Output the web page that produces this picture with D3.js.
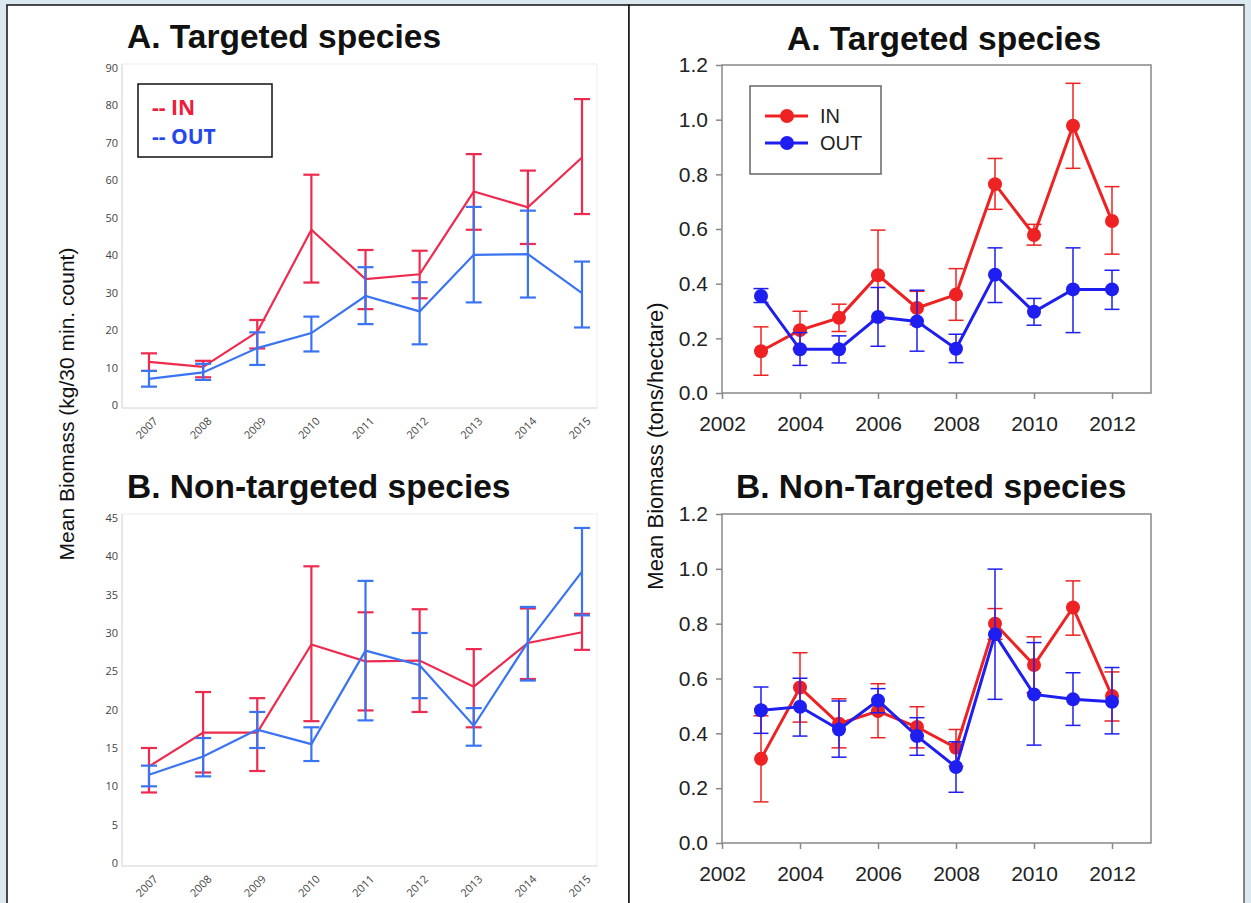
<!DOCTYPE html>
<html><head><meta charset="utf-8">
<script src="https://cdn.jsdelivr.net/npm/d3@7"></script>
<style>
html,body{margin:0;padding:0;background:#dbe8f0;}
svg{display:block;}
</style></head>
<body>
<svg id="chart" width="1251" height="903"></svg>
<script>
// ---------- DATA ----------
const leftYears = [2007, 2008, 2009, 2010, 2011, 2012, 2013, 2014, 2015];
const leftYTicksA = [0, 10, 20, 30, 40, 50, 60, 70, 80, 90];
const leftYTicksB = [0, 5, 10, 15, 20, 25, 30, 35, 40, 45];

const leftA_in   = [11.5, 10.2, 19.5, 46.8, 33.6, 34.9, 57.0, 52.8, 66.1];
const leftA_inLo = [9.1, 7.4, 15.1, 32.7, 25.6, 28.5, 46.8, 43.0, 51.0];
const leftA_inHi = [13.8, 11.8, 22.7, 61.5, 41.4, 41.2, 67.0, 62.6, 81.7];
const leftA_out   = [7.0, 8.7, 15.2, 19.2, 29.1, 25.0, 40.1, 40.3, 29.9];
const leftA_outLo = [4.9, 6.7, 10.7, 14.3, 21.6, 16.2, 27.4, 28.7, 20.7];
const leftA_outHi = [9.1, 11.0, 19.4, 23.6, 36.8, 32.8, 52.9, 51.9, 38.3];

const leftB_in   = [12.6, 17.0, 17.0, 28.5, 26.3, 26.4, 23.0, 28.7, 30.1];
const leftB_inLo = [9.2, 11.8, 12.0, 18.5, 19.9, 19.7, 17.7, 24.0, 27.8];
const leftB_inHi = [15.0, 22.3, 21.5, 38.7, 32.7, 33.1, 27.9, 33.2, 32.5];
const leftB_out   = [11.5, 13.9, 17.4, 15.5, 27.7, 25.8, 17.9, 28.8, 38.0];
const leftB_outLo = [10.0, 11.3, 15.0, 13.3, 18.6, 21.5, 15.3, 23.8, 32.3];
const leftB_outHi = [12.7, 16.3, 19.7, 17.7, 36.8, 30.0, 20.2, 33.4, 43.7];

const rightYears = [2003, 2004, 2005, 2006, 2007, 2008, 2009, 2010, 2011, 2012];
const rightXTicks = [2002, 2004, 2006, 2008, 2010, 2012];
const rightYTicks = [0.0, 0.2, 0.4, 0.6, 0.8, 1.0, 1.2];

const rightA_in   = [0.153, 0.230, 0.275, 0.431, 0.311, 0.360, 0.764, 0.578, 0.978, 0.629];
const rightA_inLo = [0.065, 0.160, 0.225, 0.266, 0.250, 0.266, 0.672, 0.541, 0.822, 0.508];
const rightA_inHi = [0.242, 0.299, 0.325, 0.596, 0.372, 0.455, 0.858, 0.617, 1.133, 0.755];
const rightA_out   = [0.355, 0.160, 0.160, 0.278, 0.262, 0.162, 0.433, 0.297, 0.379, 0.379];
const rightA_outLo = [0.331, 0.101, 0.110, 0.171, 0.153, 0.111, 0.331, 0.248, 0.221, 0.306];
const rightA_outHi = [0.382, 0.221, 0.209, 0.386, 0.376, 0.215, 0.531, 0.346, 0.531, 0.449];

const rightB_in   = [0.307, 0.567, 0.435, 0.481, 0.423, 0.347, 0.800, 0.649, 0.859, 0.536];
const rightB_inLo = [0.150, 0.441, 0.347, 0.384, 0.347, 0.280, 0.743, 0.548, 0.758, 0.445];
const rightB_inHi = [0.464, 0.694, 0.526, 0.581, 0.497, 0.414, 0.855, 0.752, 0.956, 0.624];
const rightB_out   = [0.484, 0.497, 0.414, 0.520, 0.390, 0.277, 0.761, 0.542, 0.524, 0.515];
const rightB_outLo = [0.400, 0.390, 0.313, 0.475, 0.320, 0.185, 0.524, 0.357, 0.429, 0.398];
const rightB_outHi = [0.569, 0.601, 0.518, 0.563, 0.457, 0.369, 0.999, 0.731, 0.621, 0.640];

const seriesNames = ["IN", "OUT"];

// ---------- STYLE ----------
const leftRed = "#ee2a4e", leftBlue = "#3a74f2";
const rightRed = "#ee2222", rightBlue = "#1e1ef0";

const svg = d3.select("#chart");

// panels
svg.append("rect").attr("x", 7).attr("y", 5).attr("width", 622).attr("height", 905)
  .attr("fill", "#fff").attr("stroke", "#111").attr("stroke-width", 1.5);
svg.append("rect").attr("x", 629).attr("y", 5).attr("width", 615).attr("height", 905)
  .attr("fill", "#fff").attr("stroke", "#111").attr("stroke-width", 1.5);
svg.append("line").attr("x1", 1244).attr("x2", 1244).attr("y1", 5).attr("y2", 903)
  .attr("stroke", "#999").attr("stroke-width", 1.5);

function title(x, y, txt, size) {
  svg.append("text").attr("x", x).attr("y", y).text(txt)
    .attr("font-family", "'Liberation Sans', Arial, sans-serif")
    .attr("font-weight", "bold").attr("font-size", size).attr("fill", "#111");
}

// ---------- LEFT PANELS ----------
function leftChart(yTop, yBottom, maxV, ticks, inV, inLo, inHi, outV, outLo, outHi) {
  const x = d3.scalePoint().domain(leftYears).range([149, 582]);
  const y = d3.scaleLinear().domain([0, maxV]).range([yBottom, yTop]);
  const g = svg.append("g");
  g.append("rect").attr("x", 122).attr("y", yTop - 4).attr("width", 475).attr("height", yBottom - yTop + 7)
    .attr("fill", "none").attr("stroke", "#ececec").attr("stroke-width", 1);
  g.append("line").attr("x1", 122).attr("x2", 597).attr("y1", yBottom + 3).attr("y2", yBottom + 3)
    .attr("stroke", "#dcdcdc").attr("stroke-width", 1.2);
  g.append("line").attr("x1", 122).attr("x2", 122).attr("y1", yTop - 4).attr("y2", yBottom + 3)
    .attr("stroke", "#dcdcdc").attr("stroke-width", 1.2);
  const ya = d3.axisLeft(y).tickValues(ticks).tickSize(0).tickPadding(0).tickFormat(d3.format("d"));
  const yg = g.append("g").attr("transform", "translate(118,0)").call(ya);
  yg.select(".domain").remove();
  yg.selectAll("text").attr("font-family", "'Open Sans', sans-serif").attr("font-size", 11).attr("fill", "#444");
  const xa = d3.axisBottom(x).tickSize(0).tickFormat(d3.format("d"));
  const xg = g.append("g").attr("transform", `translate(0,${yBottom + 10})`).call(xa);
  xg.select(".domain").remove();
  xg.selectAll("text").attr("font-family", "'Open Sans', sans-serif").attr("font-size", 11).attr("fill", "#444")
    .attr("text-anchor", "end").attr("dy", "0.35em")
    .attr("transform", "translate(4,2) rotate(-45)");

  function series(vals, lo, hi, color) {
    const sg = g.append("g");
    sg.append("path").datum(vals)
      .attr("d", d3.line().x((d, i) => x(leftYears[i])).y(d => y(d)))
      .attr("fill", "none").attr("stroke", color).attr("stroke-width", 2.2);
    const eb = sg.selectAll(".eb").data(vals).enter().append("g");
    eb.append("line").attr("x1", (d, i) => x(leftYears[i])).attr("x2", (d, i) => x(leftYears[i]))
      .attr("y1", (d, i) => y(lo[i])).attr("y2", (d, i) => y(hi[i]))
      .attr("stroke", color).attr("stroke-width", 2.2);
    [lo, hi].forEach(arr => {
      eb.append("line").attr("x1", (d, i) => x(leftYears[i]) - 8).attr("x2", (d, i) => x(leftYears[i]) + 8)
        .attr("y1", (d, i) => y(arr[i])).attr("y2", (d, i) => y(arr[i]))
        .attr("stroke", color).attr("stroke-width", 2.2);
    });
  }
  series(inV, inLo, inHi, leftRed);
  series(outV, outLo, outHi, leftBlue);
}

title(127, 48, "A. Targeted species", 33.5);
title(127, 498, "B. Non-targeted species", 33.5);

leftChart(68, 405, 90, leftYTicksA, leftA_in, leftA_inLo, leftA_inHi, leftA_out, leftA_outLo, leftA_outHi);
leftChart(518, 863, 45, leftYTicksB, leftB_in, leftB_inLo, leftB_inHi, leftB_out, leftB_outLo, leftB_outHi);

// left legend
svg.append("rect").attr("x", 138).attr("y", 84).attr("width", 134).attr("height", 73)
  .attr("fill", "#fff").attr("stroke", "#111").attr("stroke-width", 1.5);
svg.append("text").attr("x", 152).attr("y", 115).text("-- " + seriesNames[0])
  .attr("font-family", "'Open Sans', sans-serif").attr("font-weight", "bold").attr("font-size", 21)
  .attr("fill", "#ee1c3a");
svg.append("text").attr("x", 152).attr("y", 144).text("-- " + seriesNames[1])
  .attr("font-family", "'Open Sans', sans-serif").attr("font-weight", "bold").attr("font-size", 21)
  .attr("fill", "#2448ec");

// left y label
svg.append("text").attr("transform", "translate(74,404) rotate(-90)").attr("text-anchor", "middle")
  .text("Mean Biomass (kg/30 min. count)")
  .attr("font-family", "'Liberation Sans', Arial, sans-serif").attr("font-size", 21).attr("fill", "#111");

// ---------- RIGHT PANELS ----------
function rightChart(yTop, yBottom, inV, inLo, inHi, outV, outLo, outHi) {
  const x = d3.scaleLinear().domain([2002, 2013]).range([722, 1151]);
  const y = d3.scaleLinear().domain([0, 1.2]).range([yBottom, yTop]);
  const g = svg.append("g");
  g.append("rect").attr("x", 722).attr("y", yTop).attr("width", 1151 - 722).attr("height", yBottom - yTop)
    .attr("fill", "none").attr("stroke", "#888").attr("stroke-width", 1.5);
  const xa = d3.axisBottom(x).tickValues(rightXTicks).tickSize(6).tickPadding(17).tickFormat(d3.format("d"));
  const xg = g.append("g").attr("transform", `translate(0,${yBottom})`).call(xa);
  xg.select(".domain").remove();
  xg.selectAll("line").attr("stroke", "#888").attr("stroke-width", 1.5);
  xg.selectAll("text").attr("font-family", "'Liberation Sans', Arial, sans-serif").attr("font-size", 21).attr("fill", "#222");
  const ya = d3.axisLeft(y).tickValues(rightYTicks).tickSize(6).tickPadding(8).tickFormat(d3.format(".1f"));
  const yg = g.append("g").attr("transform", "translate(722,0)").call(ya);
  yg.select(".domain").remove();
  yg.selectAll("line").attr("stroke", "#888").attr("stroke-width", 1.5);
  yg.selectAll("text").attr("font-family", "'Liberation Sans', Arial, sans-serif").attr("font-size", 21).attr("fill", "#222");

  function series(vals, lo, hi, color) {
    const sg = g.append("g");
    const eb = sg.selectAll(".eb").data(vals).enter().append("g");
    eb.append("line").attr("x1", (d, i) => x(rightYears[i])).attr("x2", (d, i) => x(rightYears[i]))
      .attr("y1", (d, i) => y(lo[i])).attr("y2", (d, i) => y(hi[i]))
      .attr("stroke", color).attr("stroke-width", 1.5);
    [lo, hi].forEach(arr => {
      eb.append("line").attr("x1", (d, i) => x(rightYears[i]) - 7.5).attr("x2", (d, i) => x(rightYears[i]) + 7.5)
        .attr("y1", (d, i) => y(arr[i])).attr("y2", (d, i) => y(arr[i]))
        .attr("stroke", color).attr("stroke-width", 1.5);
    });
    sg.append("path").datum(vals)
      .attr("d", d3.line().x((d, i) => x(rightYears[i])).y(d => y(d)))
      .attr("fill", "none").attr("stroke", color).attr("stroke-width", 3);
    sg.selectAll(".pt").data(vals).enter().append("circle")
      .attr("cx", (d, i) => x(rightYears[i])).attr("cy", d => y(d)).attr("r", 7)
      .attr("fill", color);
  }
  series(inV, inLo, inHi, rightRed);
  series(outV, outLo, outHi, rightBlue);
}

title(787, 50, "A. Targeted species", 33.5);
title(736, 498, "B. Non-Targeted species", 33.5);

rightChart(65, 393, rightA_in, rightA_inLo, rightA_inHi, rightA_out, rightA_outLo, rightA_outHi);
rightChart(514, 843, rightB_in, rightB_inLo, rightB_inHi, rightB_out, rightB_outLo, rightB_outHi);

// right legend
svg.append("rect").attr("x", 750).attr("y", 86).attr("width", 131).attr("height", 88)
  .attr("fill", "#fff").attr("stroke", "#666").attr("stroke-width", 1.5);
[[rightRed, 116, seriesNames[0]], [rightBlue, 143, seriesNames[1]]].forEach(([c, yy, t]) => {
  svg.append("line").attr("x1", 765).attr("x2", 808).attr("y1", yy).attr("y2", yy)
    .attr("stroke", c).attr("stroke-width", 3);
  svg.append("circle").attr("cx", 787).attr("cy", yy).attr("r", 7).attr("fill", c);
  svg.append("text").attr("x", 820).attr("y", yy + 7).text(t)
    .attr("font-family", "'Liberation Sans', Arial, sans-serif").attr("font-size", 20).attr("fill", "#222");
});

// right y label
svg.append("text").attr("transform", "translate(663,446) rotate(-90)").attr("text-anchor", "middle")
  .text("Mean Biomass (tons/hectare)")
  .attr("font-family", "'Liberation Sans', Arial, sans-serif").attr("font-size", 22).attr("fill", "#111");
</script>
</body></html>
